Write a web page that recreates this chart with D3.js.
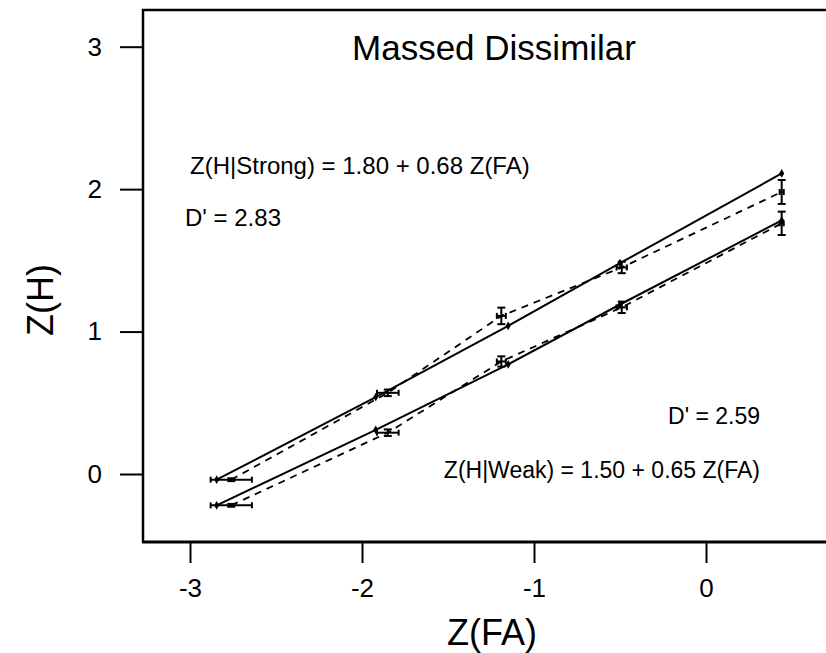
<!DOCTYPE html>
<html>
<head>
<meta charset="utf-8">
<script src="https://cdn.jsdelivr.net/npm/d3@7"></script>
<style>
body { margin: 0; background: #fff; }
text { font-family: Arial, "Liberation Sans", sans-serif; fill: #000; }
</style>
</head>
<body>
<script>
// fitted (solid) points
var faFit = [-2.845, -1.92, -1.15, -0.50, 0.44];
var strongFit = [-0.04, 0.54, 1.04, 1.48, 2.11];
var weakFit = [-0.22, 0.31, 0.77, 1.19, 1.78];

// observed (dashed) points with error bars
var faObs = [-2.76, -1.85, -1.19, -0.49, 0.44];
var strongObs = [-0.04, 0.57, 1.11, 1.45, 1.98];
var weakObs = [-0.22, 0.29, 0.79, 1.17, 1.76];
var faErr = [0.12, 0.063, 0.026, 0.03, 0.012];
var strongErr = [0.01, 0.023, 0.058, 0.04, 0.084];
var weakErr = [0.01, 0.023, 0.036, 0.04, 0.082];

var xTicks = [-3, -2, -1, 0];
var yTicks = [0, 1, 2, 3];

var width = 826, height = 653;

var svg = d3.select("body").append("svg")
    .attr("width", width)
    .attr("height", height);

var frameLeft = 143, frameTop = 10, frameBottom = 542;

var x = d3.scaleLinear().domain([-3, 0]).range([190, 706]);
var y = d3.scaleLinear().domain([0, 3]).range([474, 46.7]);

// frame (right side runs off the picture)
svg.append("path")
    .attr("d", "M" + width + "," + frameTop + "H" + frameLeft + "V" + frameBottom)
    .attr("fill", "none").attr("stroke", "#000").attr("stroke-width", 2.5);
svg.append("line")
    .attr("x1", frameLeft - 1).attr("x2", width)
    .attr("y1", frameBottom).attr("y2", frameBottom)
    .attr("stroke", "#000").attr("stroke-width", 3);

// x axis
var xAxis = svg.append("g")
    .attr("transform", "translate(0," + (frameBottom + 1) + ")")
    .call(d3.axisBottom(x).tickValues(xTicks).tickSize(20).tickPadding(16).tickFormat(function(d) { return String(d); }));
xAxis.select(".domain").remove();
xAxis.selectAll("line").attr("stroke-width", 2);
xAxis.selectAll("text").attr("font-size", 26).attr("font-family", "Arial, Liberation Sans, sans-serif");

// y axis
var yAxis = svg.append("g")
    .attr("transform", "translate(" + (frameLeft - 1) + ",0)")
    .call(d3.axisLeft(y).tickValues(yTicks).tickSize(22).tickPadding(18).tickFormat(function(d) { return String(d); }));
yAxis.select(".domain").remove();
yAxis.selectAll("line").attr("stroke-width", 2);
yAxis.selectAll("text").attr("font-size", 26).attr("font-family", "Arial, Liberation Sans, sans-serif");

// axis titles
svg.append("text").text("Z(FA)")
    .attr("x", 492).attr("y", 645)
    .attr("text-anchor", "middle").attr("font-size", 36);
svg.append("text").text("Z(H)")
    .attr("transform", "translate(53,300) rotate(-90)")
    .attr("text-anchor", "middle").attr("font-size", 36);

// title
svg.append("text").text("Massed Dissimilar")
    .attr("x", 494).attr("y", 60)
    .attr("text-anchor", "middle").attr("font-size", 35);

// annotations
svg.append("text").text("Z(H|Strong) = 1.80 + 0.68 Z(FA)")
    .attr("x", 190).attr("y", 174).attr("font-size", 24);
svg.append("text").text("D' = 2.83")
    .attr("x", 185).attr("y", 226).attr("font-size", 24);
svg.append("text").text("D' = 2.59")
    .attr("x", 760).attr("y", 424).attr("text-anchor", "end").attr("font-size", 23);
svg.append("text").text("Z(H|Weak) = 1.50 + 0.65 Z(FA)")
    .attr("x", 760).attr("y", 478).attr("text-anchor", "end").attr("font-size", 23);

var line = d3.line()
    .x(function(d) { return x(d[0]); })
    .y(function(d) { return y(d[1]); });

// dashed observed lines
[strongObs, weakObs].forEach(function(vals) {
    svg.append("path")
        .datum(faObs.map(function(f, i) { return [f, vals[i]]; }))
        .attr("d", line)
        .attr("fill", "none").attr("stroke", "#000")
        .attr("stroke-width", 1.8).attr("stroke-dasharray", "7,6");
});

// solid fitted lines with small diamond markers
[strongFit, weakFit].forEach(function(vals) {
    var pts = faFit.map(function(f, i) { return [f, vals[i]]; });
    svg.append("path")
        .datum(pts)
        .attr("d", line)
        .attr("fill", "none").attr("stroke", "#000").attr("stroke-width", 2);
    svg.selectAll(null)
        .data(pts)
        .enter()
        .append("path")
        .attr("d", d3.symbol().type(d3.symbolDiamond).size(22))
        .attr("transform", function(d) { return "translate(" + x(d[0]) + "," + y(d[1]) + ")"; })
        .attr("fill", "#000");
});

// error bars
[[strongObs, strongErr], [weakObs, weakErr]].forEach(function(s) {
    var vals = s[0], errs = s[1];
    faObs.forEach(function(f, i) {
        var g = svg.append("g").attr("stroke", "#000").attr("stroke-width", 2);
        var cx = x(f), cy = y(vals[i]);
        var x0 = x(f - faErr[i]), x1 = x(f + faErr[i]);
        var y0 = y(vals[i] - errs[i]), y1 = y(vals[i] + errs[i]);
        g.append("line").attr("x1", x0).attr("x2", x1).attr("y1", cy).attr("y2", cy);
        g.append("line").attr("x1", x0).attr("x2", x0).attr("y1", cy - 3).attr("y2", cy + 3);
        g.append("line").attr("x1", x1).attr("x2", x1).attr("y1", cy - 3).attr("y2", cy + 3);
        g.append("line").attr("x1", cx).attr("x2", cx).attr("y1", y0).attr("y2", y1);
        g.append("line").attr("x1", cx - 4).attr("x2", cx + 4).attr("y1", y0).attr("y2", y0);
        g.append("line").attr("x1", cx - 4).attr("x2", cx + 4).attr("y1", y1).attr("y2", y1);
    });
});
</script>
</body>
</html>
